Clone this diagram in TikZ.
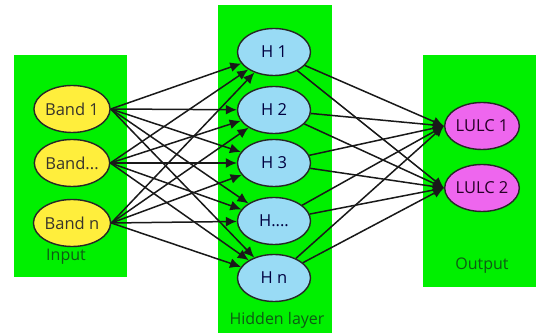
\documentclass[tikz,border=0pt]{standalone}
\usepackage{fontspec}
\setmainfont{Open Sans}
\usetikzlibrary{arrows.meta,shapes.geometric}
\definecolor{layergreen}{HTML}{00F000}
\definecolor{bandfill}{HTML}{FFEE3C}
\definecolor{hidfill}{HTML}{99DBF5}
\definecolor{outfill}{HTML}{EE66EE}
\definecolor{labgreen}{HTML}{0E5A14}
\tikzset{
  layer/.style={fill=layergreen, draw=none},
  neuron/.style={ellipse, draw=black!85, line width=1.4pt, minimum width=73pt, minimum height=47pt, inner sep=0pt, font=\fontsize{16.5}{18}\selectfont},
  bandnode/.style={neuron, fill=bandfill, text=black!80!olive},
  hidnode/.style={neuron, fill=hidfill, text=black!75!blue},
  outnode/.style={neuron, fill=outfill, text=black!70!violet},
  laylabel/.style={text=labgreen, font=\fontsize{16}{18}\selectfont},
  link/.style={draw=black!90, line width=1.5pt, -{Latex[length=11pt,width=10pt]}}
}
\begin{document}
\begin{tikzpicture}[x=1pt,y=-1pt]
\useasboundingbox (0,0) rectangle (544,336);
\fill[white] (0,0) rectangle (544,336);
% layer panels
\path[layer] (14,55) rectangle (127,277);
\path[layer] (218,5) rectangle (332,333);
\path[layer] (423,55) rectangle (536,287);
% layer labels
\node[laylabel] (lin) at (66,257) {Input};
\node[laylabel] (lhid) at (277,320) {Hidden layer};
\node[laylabel] (lout) at (482,266) {Output};
% input neurons
\node[bandnode] (b1) at (72,109) {Band 1};
\node[bandnode] (b2) at (72,163) {Band...};
\node[bandnode] (b3) at (72,223) {Band n};
% hidden neurons
\node[hidnode] (h1) at (274,52) {H 1};
\node[hidnode] (h2) at (274,110) {H 2};
\node[hidnode] (h3) at (274,163) {H 3};
\node[hidnode] (h4) at (274,221) {H....};
\node[hidnode] (h5) at (274,278) {H n};
% output neurons
\node[outnode] (o1) at (482,126) {LULC 1};
\node[outnode] (o2) at (482,188) {LULC 2};
% input -> hidden
\foreach \b in {b1,b2,b3}
  \foreach \h in {h1,h2,h3,h4,h5}
    \draw[link] (\b.east) -- (\h);
% hidden -> output
\foreach \h in {h1,h2,h3,h4,h5}
  \foreach \o in {o1,o2}
    \draw[link] (\h) -- (\o.west);
\end{tikzpicture}
\end{document}
